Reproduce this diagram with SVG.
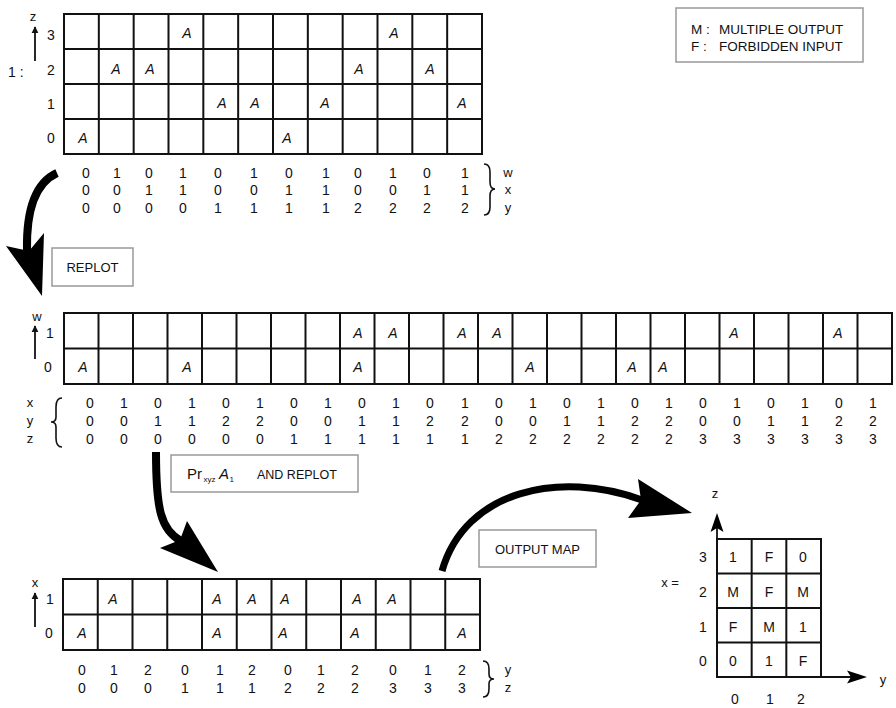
<svg xmlns="http://www.w3.org/2000/svg" width="896" height="708" viewBox="0 0 896 708">
<defs>
<marker id="ah" viewBox="0 0 10 10" refX="9" refY="5" markerWidth="7" markerHeight="9" markerUnits="userSpaceOnUse" orient="auto"><path d="M0,0 L10,5 L0,10 z" fill="#111"/></marker>
</defs>
<style>
text{font-family:"Comic Sans MS","Liberation Sans",Arial,sans-serif;fill:#111}
.n{font-size:14px;text-anchor:middle}
.a{font-size:14px;font-style:italic;text-anchor:middle}
.l{font-size:13px;text-anchor:middle}
.g{fill:none;stroke:#111;stroke-width:2}
.box{fill:#fff;stroke:#999;stroke-width:1.5}
.big{fill:none;stroke:#000;stroke-width:8}
.head{fill:#000}
.ax{fill:none;stroke:#111;stroke-width:1.8}
.br{fill:none;stroke:#111;stroke-width:1.6}
</style>
<rect width="896" height="708" fill="#fff"/>

<g id="connectors">
<path class="big" d="M57,173 C37,182 26,205 27,251"/>
<path class="head" d="M42,296 L6,246 L29,251 L44,233 Z"/>
<path class="big" d="M156,452 C156,510 161,530 181,541"/>
<path class="head" d="M218,572 L160,548 L180,540 L187,521 Z"/>
<path class="big" style="stroke-width:7" d="M442,571 C465,490 560,470 642,500"/>
<path class="head" d="M692,513 L638,479 L641,500 L628,518 Z"/>
</g>

<g id="map1">
<text x="8" y="77" style="font-size:14px">1 :</text>
<text class="l" x="33" y="21">z</text>
<line class="ax" x1="35" y1="61" x2="35" y2="27" marker-end="url(#ah)"/>
<text class="n" x="51" y="40">3</text>
<text class="n" x="51" y="75">2</text>
<text class="n" x="51" y="109">1</text>
<text class="n" x="51" y="143">0</text>
<rect class="g" x="64" y="14" width="418" height="140"/>
<path class="g" d="M98.83,14V154M133.67,14V154M168.5,14V154M203.33,14V154M238.17,14V154M273,14V154M307.83,14V154M342.67,14V154M377.5,14V154M412.33,14V154M447.17,14V154M64,49H482M64,84H482M64,119H482"/>
<text class="a" x="187" y="38">A</text>
<text class="a" x="394" y="38">A</text>
<text class="a" x="116" y="74">A</text>
<text class="a" x="150" y="74">A</text>
<text class="a" x="359" y="74">A</text>
<text class="a" x="430" y="74">A</text>
<text class="a" x="222" y="108">A</text>
<text class="a" x="255" y="108">A</text>
<text class="a" x="325" y="108">A</text>
<text class="a" x="462" y="108">A</text>
<text class="a" x="83" y="143">A</text>
<text class="a" x="287" y="143">A</text>
<text class="n" x="86" y="178">0</text><text class="n" x="117" y="178">1</text><text class="n" x="149" y="178">0</text><text class="n" x="183" y="178">1</text><text class="n" x="218" y="178">0</text><text class="n" x="254" y="178">1</text><text class="n" x="289" y="178">0</text><text class="n" x="326" y="178">1</text><text class="n" x="358" y="178">0</text><text class="n" x="393" y="178">1</text><text class="n" x="427" y="178">0</text><text class="n" x="465" y="178">1</text>
<text class="n" x="86" y="195">0</text><text class="n" x="117" y="195">0</text><text class="n" x="149" y="195">1</text><text class="n" x="183" y="195">1</text><text class="n" x="218" y="195">0</text><text class="n" x="254" y="195">0</text><text class="n" x="289" y="195">1</text><text class="n" x="326" y="195">1</text><text class="n" x="358" y="195">0</text><text class="n" x="393" y="195">0</text><text class="n" x="427" y="195">1</text><text class="n" x="465" y="195">1</text>
<text class="n" x="86" y="213">0</text><text class="n" x="117" y="213">0</text><text class="n" x="149" y="213">0</text><text class="n" x="183" y="213">0</text><text class="n" x="218" y="213">1</text><text class="n" x="254" y="213">1</text><text class="n" x="289" y="213">1</text><text class="n" x="326" y="213">1</text><text class="n" x="358" y="213">2</text><text class="n" x="393" y="213">2</text><text class="n" x="427" y="213">2</text><text class="n" x="465" y="213">2</text>
<path class="br" d="M484,164 Q490,164 490,172 L490,182 Q490,189 495,189 Q490,189 490,196 L490,207 Q490,215 484,215"/>
<text class="l" x="508" y="177">w</text>
<text class="l" x="508" y="194">x</text>
<text class="l" x="508" y="212">y</text>
</g>

<g id="replot">
<rect class="box" x="52" y="248" width="81" height="38"/>
<text class="l" x="92.5" y="272">REPLOT</text>
</g>

<g id="map2">
<text class="l" x="37" y="321">w</text>
<line class="ax" x1="35" y1="359" x2="35" y2="326" marker-end="url(#ah)"/>
<text class="n" x="50" y="338">1</text>
<text class="n" x="48" y="372">0</text>
<rect class="g" x="64" y="313" width="828" height="71"/>
<path class="g" d="M98.5,313V384M133,313V384M167.5,313V384M202,313V384M236.5,313V384M271,313V384M305.5,313V384M340,313V384M374.5,313V384M409,313V384M443.5,313V384M478,313V384M512.5,313V384M547,313V384M581.5,313V384M616,313V384M650.5,313V384M685,313V384M719.5,313V384M754,313V384M788.5,313V384M823,313V384M857.5,313V384M64,348.5H892"/>
<text class="a" x="358" y="338">A</text>
<text class="a" x="393" y="338">A</text>
<text class="a" x="462" y="338">A</text>
<text class="a" x="497" y="338">A</text>
<text class="a" x="734" y="338">A</text>
<text class="a" x="838" y="338">A</text>
<text class="a" x="83" y="372">A</text>
<text class="a" x="187" y="372">A</text>
<text class="a" x="358" y="372">A</text>
<text class="a" x="530" y="372">A</text>
<text class="a" x="632" y="372">A</text>
<text class="a" x="663" y="372">A</text>
<text class="l" x="30" y="407">x</text>
<text class="l" x="30" y="425">y</text>
<text class="l" x="30" y="443">z</text>
<path class="br" d="M62,398 Q56,398 56,407 L56,417 Q56,422 51,422 Q56,422 56,427 L56,438 Q56,447 62,447"/>
<text class="n" x="90" y="408">0</text><text class="n" x="124" y="408">1</text><text class="n" x="158" y="408">0</text><text class="n" x="192" y="408">1</text><text class="n" x="226" y="408">0</text><text class="n" x="260" y="408">1</text><text class="n" x="294" y="408">0</text><text class="n" x="328" y="408">1</text><text class="n" x="362" y="408">0</text><text class="n" x="396" y="408">1</text><text class="n" x="430" y="408">0</text><text class="n" x="465" y="408">1</text><text class="n" x="499" y="408">0</text><text class="n" x="533" y="408">1</text><text class="n" x="567" y="408">0</text><text class="n" x="601" y="408">1</text><text class="n" x="635" y="408">0</text><text class="n" x="669" y="408">1</text><text class="n" x="703" y="408">0</text><text class="n" x="737" y="408">1</text><text class="n" x="771" y="408">0</text><text class="n" x="805" y="408">1</text><text class="n" x="839" y="408">0</text><text class="n" x="873" y="408">1</text>
<text class="n" x="90" y="426">0</text><text class="n" x="124" y="426">0</text><text class="n" x="158" y="426">1</text><text class="n" x="192" y="426">1</text><text class="n" x="226" y="426">2</text><text class="n" x="260" y="426">2</text><text class="n" x="294" y="426">0</text><text class="n" x="328" y="426">0</text><text class="n" x="362" y="426">1</text><text class="n" x="396" y="426">1</text><text class="n" x="430" y="426">2</text><text class="n" x="465" y="426">2</text><text class="n" x="499" y="426">0</text><text class="n" x="533" y="426">0</text><text class="n" x="567" y="426">1</text><text class="n" x="601" y="426">1</text><text class="n" x="635" y="426">2</text><text class="n" x="669" y="426">2</text><text class="n" x="703" y="426">0</text><text class="n" x="737" y="426">0</text><text class="n" x="771" y="426">1</text><text class="n" x="805" y="426">1</text><text class="n" x="839" y="426">2</text><text class="n" x="873" y="426">2</text>
<text class="n" x="90" y="444">0</text><text class="n" x="124" y="444">0</text><text class="n" x="158" y="444">0</text><text class="n" x="192" y="444">0</text><text class="n" x="226" y="444">0</text><text class="n" x="260" y="444">0</text><text class="n" x="294" y="444">1</text><text class="n" x="328" y="444">1</text><text class="n" x="362" y="444">1</text><text class="n" x="396" y="444">1</text><text class="n" x="430" y="444">1</text><text class="n" x="465" y="444">1</text><text class="n" x="499" y="444">2</text><text class="n" x="533" y="444">2</text><text class="n" x="567" y="444">2</text><text class="n" x="601" y="444">2</text><text class="n" x="635" y="444">2</text><text class="n" x="669" y="444">2</text><text class="n" x="703" y="444">3</text><text class="n" x="737" y="444">3</text><text class="n" x="771" y="444">3</text><text class="n" x="805" y="444">3</text><text class="n" x="839" y="444">3</text><text class="n" x="873" y="444">3</text>
</g>

<g id="projection">
<rect class="box" x="171" y="455" width="187" height="37"/>
<text y="479" style="font-size:15px"><tspan x="187">Pr</tspan><tspan x="203.5" dy="3" style="font-size:8px">xyz</tspan><tspan x="219" dy="-3" style="font-style:italic">A</tspan><tspan x="229.5" dy="3" style="font-size:8px">1</tspan></text>
<text x="257" y="479" style="font-size:12.5px">AND REPLOT</text>
</g>

<g id="map3">
<text class="l" x="35" y="587">x</text>
<line class="ax" x1="35" y1="627" x2="35" y2="593" marker-end="url(#ah)"/>
<text class="n" x="50" y="604">1</text>
<text class="n" x="49" y="638">0</text>
<rect class="g" x="63" y="579" width="417" height="71"/>
<path class="g" d="M97.75,579V650M132.5,579V650M167.25,579V650M202,579V650M236.75,579V650M271.5,579V650M306.25,579V650M341,579V650M375.75,579V650M410.5,579V650M445.25,579V650M63,614.5H480"/>
<text class="a" x="113" y="604">A</text>
<text class="a" x="217" y="604">A</text>
<text class="a" x="252" y="604">A</text>
<text class="a" x="285" y="604">A</text>
<text class="a" x="357" y="604">A</text>
<text class="a" x="392" y="604">A</text>
<text class="a" x="82" y="638">A</text>
<text class="a" x="217" y="638">A</text>
<text class="a" x="283" y="638">A</text>
<text class="a" x="355" y="638">A</text>
<text class="a" x="462" y="638">A</text>
<text class="n" x="82" y="675">0</text><text class="n" x="114" y="675">1</text><text class="n" x="148" y="675">2</text><text class="n" x="185" y="675">0</text><text class="n" x="220" y="675">1</text><text class="n" x="252" y="675">2</text><text class="n" x="288" y="675">0</text><text class="n" x="321" y="675">1</text><text class="n" x="355" y="675">2</text><text class="n" x="393" y="675">0</text><text class="n" x="428" y="675">1</text><text class="n" x="462" y="675">2</text>
<text class="n" x="82" y="693">0</text><text class="n" x="114" y="693">0</text><text class="n" x="148" y="693">0</text><text class="n" x="185" y="693">1</text><text class="n" x="220" y="693">1</text><text class="n" x="252" y="693">1</text><text class="n" x="288" y="693">2</text><text class="n" x="321" y="693">2</text><text class="n" x="355" y="693">2</text><text class="n" x="393" y="693">3</text><text class="n" x="428" y="693">3</text><text class="n" x="462" y="693">3</text>
<path class="br" d="M483,661 Q489,661 489,669 L489,674 Q489,679 494,679 Q489,679 489,684 L489,689 Q489,697 483,697"/>
<text class="l" x="508" y="674">y</text>
<text class="l" x="508" y="692">z</text>
</g>

<g id="output-label">
<rect class="box" x="479" y="530" width="117" height="37"/>
<text class="l" x="537.5" y="554">OUTPUT MAP</text>
</g>

<g id="output-map">
<text class="l" x="715" y="498">z</text>
<path class="ax" d="M717,677V526M717,677H852"/>
<path class="head" d="M717,513 L723.5,532 L717,528 L710.5,532 Z"/>
<path class="head" d="M867,677 L847,670.5 L851,677 L847,683.5 Z"/>
<text class="l" x="883" y="684">y</text>
<text class="l" x="670" y="587">x =</text>
<rect class="g" x="717" y="539" width="104" height="138"/>
<path class="g" d="M751.67,539V677M786.33,539V677M717,573.5H821M717,608H821M717,642.5H821"/>
<text class="n" x="703" y="562">3</text>
<text class="n" x="703" y="597">2</text>
<text class="n" x="703" y="632">1</text>
<text class="n" x="703" y="666">0</text>
<text class="n" x="733" y="562">1</text><text class="n" x="769" y="562">F</text><text class="n" x="803" y="562">0</text>
<text class="n" x="733" y="597">M</text><text class="n" x="769" y="597">F</text><text class="n" x="803" y="597">M</text>
<text class="n" x="733" y="632">F</text><text class="n" x="769" y="632">M</text><text class="n" x="803" y="632">1</text>
<text class="n" x="733" y="666">0</text><text class="n" x="769" y="666">1</text><text class="n" x="803" y="666">F</text>
<text class="n" x="735" y="704">0</text>
<text class="n" x="770" y="704">1</text>
<text class="n" x="801" y="704">2</text>
</g>

<g id="legend">
<rect class="box" x="676" y="8" width="187" height="54"/>
<text x="691" y="34" style="font-size:13.5px">M :<tspan x="719">MULTIPLE OUTPUT</tspan></text>
<text x="691" y="51" style="font-size:13.5px">F  :<tspan x="719">FORBIDDEN INPUT</tspan></text>
</g>
</svg>
